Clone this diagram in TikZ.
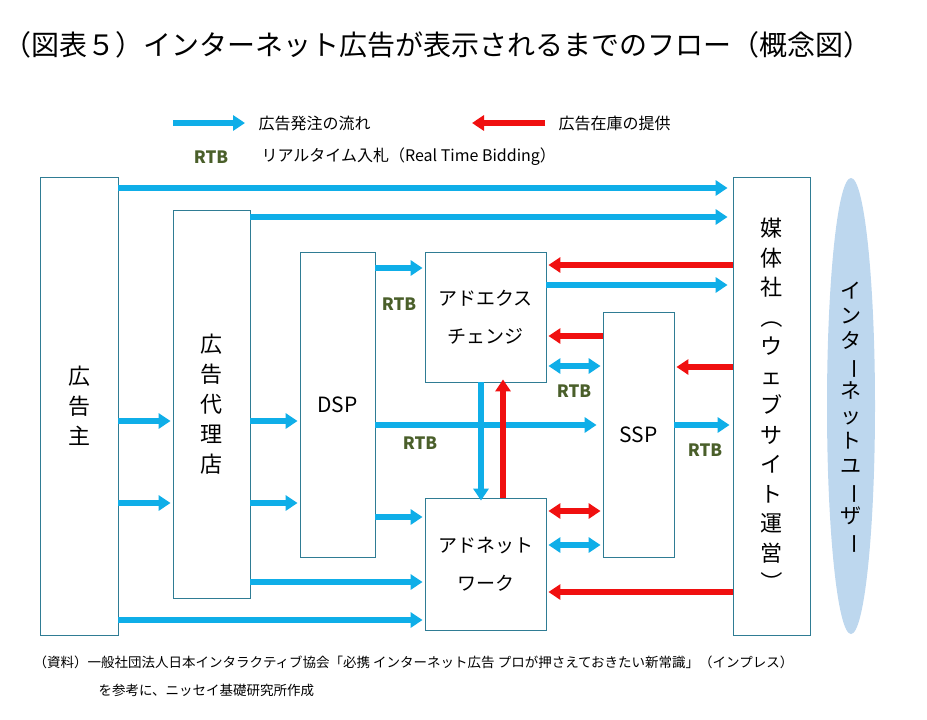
\documentclass[tikz,border=0pt]{standalone}
\usepackage{fontspec}
\usepackage{graphicx}
\setmainfont{Noto Sans CJK JP}
\usetikzlibrary{arrows.meta,shapes.geometric}
\definecolor{ab}{HTML}{0FAEE8}
\definecolor{ar}{HTML}{F01010}
\definecolor{rtbc}{HTML}{4A5F2A}
\definecolor{bd}{HTML}{2F7C94}
\definecolor{ell}{HTML}{BDD7EE}
\tikzset{
 x=1pt,y=-1pt,
 box/.style={draw=bd,line width=0.8pt,fill=white,inner sep=0pt},
 ba/.style={ab,line width=6pt,-{Triangle[width=15pt,length=12pt]}},
 bd2/.style={ab,line width=6pt,{Triangle[width=15pt,length=12pt]}-{Triangle[width=15pt,length=12pt]}},
 ra/.style={ar,line width=6pt,-{Triangle[width=15pt,length=12pt]}},
 rd2/.style={ar,line width=6pt,{Triangle[width=15pt,length=12pt]}-{Triangle[width=15pt,length=12pt]}},
 rtb/.style={text=rtbc,font=\fontsize{17}{17}\selectfont\bfseries},
 lab/.style={font=\fontsize{22}{30}\selectfont,align=center}
}
\newcommand{\rv}[1]{\rotatebox[origin=c]{-90}{#1}}
\begin{document}
\begin{tikzpicture}
\useasboundingbox (0,0) rectangle (927,720);
\node[anchor=west,font=\fontsize{28}{28}\selectfont] (title) at (0,45) {（図表５）インターネット広告が表示されるまでのフロー（概念図）};
% legend
\coordinate (l1a) at (173,123); \coordinate (l1b) at (245,123);
\draw[ba] (l1a) -- (l1b);
\node[anchor=west,font=\fontsize{16}{16}\selectfont] (lt1) at (255,123) {広告発注の流れ};
\coordinate (l2a) at (545,123); \coordinate (l2b) at (472,123);
\draw[ra] (l2a) -- (l2b);
\node[anchor=west,font=\fontsize{16}{16}\selectfont] (lt2) at (555,123) {広告在庫の提供};
\node[rtb] (lrtb) at (211,157) {RTB};
\node[anchor=west,font=\fontsize{16}{16}\selectfont] (lt3) at (258,157) {リアルタイム入札（Real Time Bidding）};
% ellipse
\node[ellipse,fill=ell,minimum width=48pt,minimum height=456pt,inner sep=0] (user) at (851,406) {};
\node[lab,font=\fontsize{21}{25}\selectfont] (usert) at (851,418) {イ\\ン\\タ\\\rv{ー}\\ネ\\ッ\\ト\\ユ\\\rv{ー}\\ザ\\\rv{ー}};
% boxes
\node[box,minimum width=78pt,minimum height=458pt] (adv) at (79,406) {};
\node[lab] at (adv) {広\\告\\主};
\node[box,minimum width=77pt,minimum height=388pt] (agc) at (211.5,404) {};
\node[lab] at (agc) {広\\告\\代\\理\\店};
\node[box,minimum width=75pt,minimum height=305pt] (dsp) at (337.5,404.5) {};
\node[font=\fontsize{21}{21}\selectfont] at (dsp) {DSP};
\node[box,minimum width=121pt,minimum height=130pt] (adx) at (485.5,317) {};
\node[lab,font=\fontsize{19}{38}\selectfont] at (adx) {アドエクス\\チェンジ};
\node[box,minimum width=121pt,minimum height=132pt] (adn) at (485.5,564) {};
\node[lab,font=\fontsize{19}{38}\selectfont] at (adn) {アドネット\\ワーク};
\node[box,minimum width=71pt,minimum height=245pt] (ssp) at (638.5,434.5) {};
\node[font=\fontsize{21}{21}\selectfont] at (ssp) {SSP};
\node[box,minimum width=77pt,minimum height=458pt] (pub) at (771.5,406) {};
\node[lab,font=\fontsize{22}{29.5}\selectfont] at (pub) {媒\\体\\社\\\rv{（}\\ウ\\ェ\\ブ\\サ\\イ\\ト\\運\\営\\\rv{）}};
% arrows
\draw[ba] (adv.east |- 0,188) -- ([xshift=-5pt]pub.west |- 0,188);
\draw[ba] (agc.east |- 0,217) -- ([xshift=-5pt]pub.west |- 0,217);
\draw[ba] (dsp.east |- 0,268) -- ([xshift=-2pt]adx.west |- 0,268);
\node[rtb] (r1) at (399,304) {RTB};
\draw[ba] (adx.east |- 0,285) -- ([xshift=-5pt]pub.west |- 0,285);
\draw[ra] (pub.west |- 0,265) -- ([xshift=2pt]adx.east |- 0,265);
\draw[ra] (ssp.west |- 0,336) -- ([xshift=2pt]adx.east |- 0,336);
\draw[bd2] ([xshift=2pt]adx.east |- 0,366) -- ([xshift=-2pt]ssp.west |- 0,366);
\node[rtb] (r2) at (574,391) {RTB};
\draw[ra] (pub.west |- 0,367) -- ([xshift=2pt]ssp.east |- 0,367);
\draw[ba] (adv.east |- 0,421) -- ([xshift=-2pt]agc.west |- 0,421);
\draw[ba] (agc.east |- 0,421) -- ([xshift=-2pt]dsp.west |- 0,421);
\draw[ba] (dsp.east |- 0,425) -- ([xshift=-6pt]ssp.west |- 0,425);
\node[rtb] (r3) at (420,443) {RTB};
\draw[ba] (ssp.east |- 0,425) -- ([xshift=-3pt]pub.west |- 0,425);
\node[rtb] (r4) at (705,450) {RTB};
\draw[ba] (adx.south -| 481,0) -- ([yshift=-3pt]adn.north -| 481,0);
\draw[ra] (adn.north -| 503,0) -- ([yshift=3pt]adx.south -| 503,0);
\draw[ba] (adv.east |- 0,503) -- ([xshift=-2pt]agc.west |- 0,503);
\draw[ba] (agc.east |- 0,503) -- ([xshift=-2pt]dsp.west |- 0,503);
\draw[ba] (dsp.east |- 0,517) -- ([xshift=-2pt]adn.west |- 0,517);
\draw[rd2] ([xshift=2pt]adn.east |- 0,511) -- ([xshift=-2pt]ssp.west |- 0,511);
\draw[bd2] ([xshift=2pt]adn.east |- 0,545) -- ([xshift=-2pt]ssp.west |- 0,545);
\draw[ba] (agc.east |- 0,582) -- ([xshift=-2pt]adn.west |- 0,582);
\draw[ra] (pub.west |- 0,592) -- ([xshift=2pt]adn.east |- 0,592);
\draw[ba] (adv.east |- 0,620) -- ([xshift=-2pt]adn.west |- 0,620);
% footnote
\node[anchor=west,font=\fontsize{13.5}{13.5}\selectfont] (f1) at (30,662) {（資料）一般社団法人日本インタラクティブ協会「必携 インターネット広告 プロが押さえておきたい新常識」（インプレス）};
\node[anchor=west,font=\fontsize{13.5}{13.5}\selectfont] (f2) at (95,690) {を参考に、ニッセイ基礎研究所作成};
\end{tikzpicture}
\end{document}
